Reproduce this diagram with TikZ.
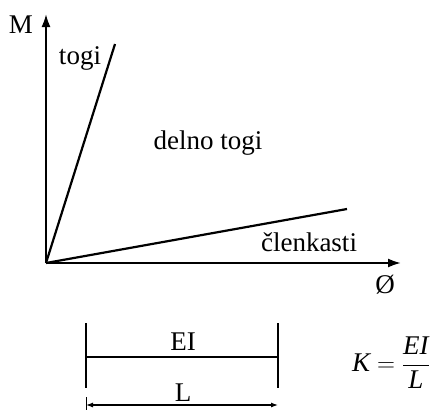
\documentclass[tikz,border=0pt]{standalone}
\usepackage{amsmath}
\usepackage{fontspec}
\setmainfont{Liberation Serif}
\usepackage{tikz}
\usetikzlibrary{arrows.meta,positioning}

\begin{document}
\begin{tikzpicture}[x=1pt,y=-1pt,
    every node/.style={font=\fontsize{27}{32}\selectfont, inner sep=0pt},
    axis/.style={line width=2pt, -{Latex[length=13pt,width=9pt]}},
    curve/.style={line width=2.2pt},
    bar/.style={line width=2.2pt},
    dim/.style={line width=1.2pt, {Latex[length=7pt,width=5pt]}-{Latex[length=7pt,width=5pt]}}]
            \useasboundingbox (0,0) rectangle (436,410);
            % diagram
            \coordinate (O) at (46,263);
            \coordinate (Mtop) at (46,14);
            \coordinate (Phiend) at (401,263);
            \coordinate (togiEnd) at (115,44);
            \coordinate (clenEnd) at (347,209);

            \node (M) at (21,25) {M};
            \node (phi) at (385,285) {Ø};
            \node (togi) at (80,58) {togi};
            \node (delno) at (208,143) {delno togi};
            \node (clen) at (309,242) {členkasti};

            \draw[axis] (O) -- (Mtop);
            \draw[axis] (O) -- (Phiend);
            \draw[curve] (O) -- (togiEnd);
            \draw[curve] (O) -- (clenEnd);

            % beam
            \coordinate (AT) at (86,323);
            \coordinate (AB) at (86,388);
            \coordinate (BT) at (278,323);
            \coordinate (BB) at (278,388);
            \coordinate (A) at (86,357);
            \coordinate (B) at (278,357);
            \coordinate (LA) at (86,405);
            \coordinate (LB) at (278,405);

            \draw[bar] (AT) -- (AB);
            \draw[bar] (BT) -- (BB);
            \draw[line width=1.3pt] (A) -- (B);
            \draw[line width=1pt] (86,397) -- (86,410);
            \draw[dim] (LA) -- (LB);
            \node (EI) at (183,342) {EI};
            \node (L) at (183,393) {L};

            \node (K) at (391,363) {$\textit{K} = \dfrac{\textit{EI}}{\textit{L}}$};
        \end{tikzpicture}
\end{document}
